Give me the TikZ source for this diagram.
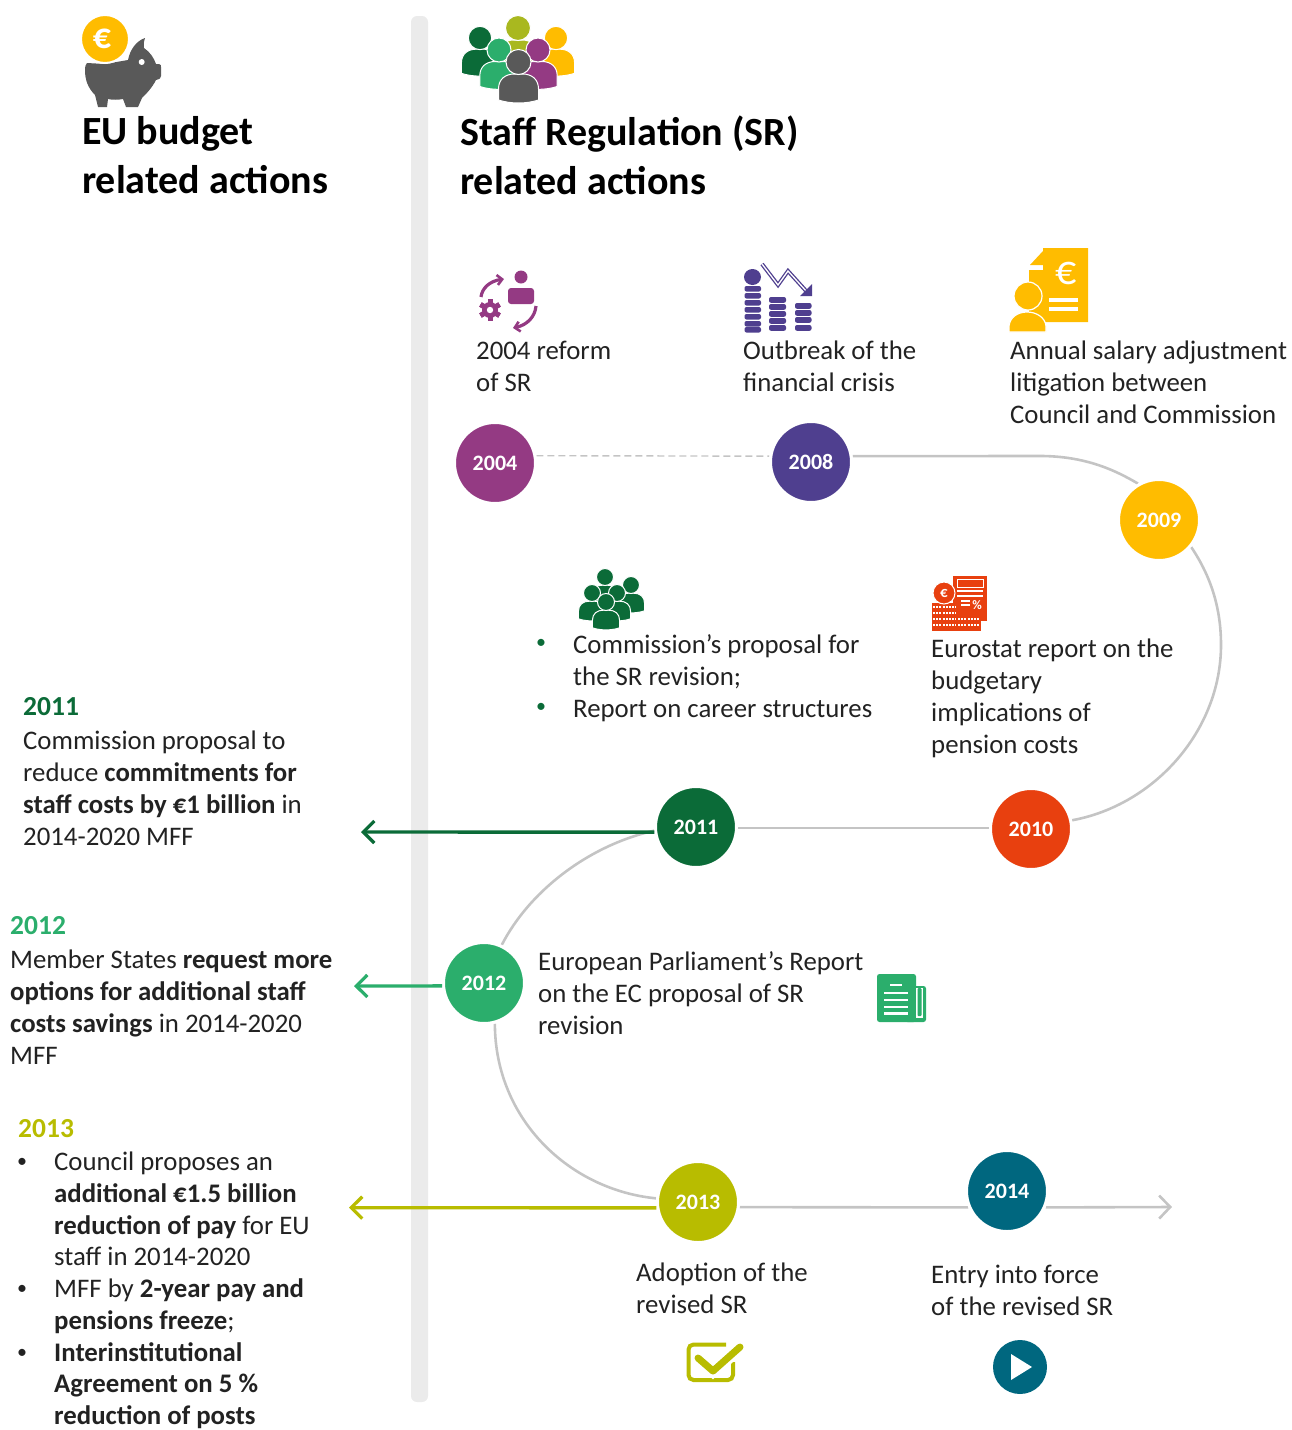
\documentclass[tikz,border=0pt]{standalone}
\usepackage{fontspec}
\setmainfont{Carlito}
\usetikzlibrary{arrows.meta,backgrounds,calc}
\definecolor{c04}{HTML}{943A83}
\definecolor{c08}{HTML}{4F3F8F}
\definecolor{c09}{HTML}{FFBC00}
\definecolor{c10}{HTML}{E8400F}
\definecolor{c11}{HTML}{0B6B38}
\definecolor{c12}{HTML}{2BAE6C}
\definecolor{c13}{HTML}{B8BC00}
\definecolor{c14}{HTML}{00677F}
\definecolor{pigc}{HTML}{595959}
\definecolor{inkc}{HTML}{222222}
\definecolor{linec}{HTML}{C4C4C4}
\definecolor{oliveh}{HTML}{A9B81F}
\tikzset{
  yearnode/.style={circle,minimum size=81pt,inner sep=0pt,draw=white,line width=3pt,text=white,
    font=\fontsize{22}{26}\selectfont\bfseries},
  bodytext/.style={anchor=north west,inner sep=0pt,align=left,text=inkc,
    font=\fontsize{26.8}{32}\selectfont,execute at begin node={\strut}},
  headtext/.style={anchor=north west,inner sep=0pt,align=left,text=black,
    font=\fontsize{40}{49}\selectfont\bfseries,execute at begin node={\strut}},
  yeartext/.style={anchor=north west,inner sep=0pt,font=\fontsize{27.5}{32}\selectfont\bfseries,execute at begin node={\strut}},
  bulletmark/.style={inner sep=0pt,font=\fontsize{20}{24}\selectfont},
  linkline/.style={draw=linec,line width=2.6pt},
  dashline/.style={draw=linec,line width=1.4pt,dash pattern=on 7pt off 4pt},
  pointer/.style={line width=3.4pt,-{Straight Barb[length=11pt,width=22pt,line width=3.2pt]}},
}
\newcommand\personicon[4]{%
  \begin{scope}[shift={(#1,#2)},scale=#3]
    \filldraw[fill=#4,draw=white,line width=1pt] (-20,38) -- (-20,27) .. controls (-20,17) and (-13,12) .. (-4,12) -- (4,12) .. controls (13,12) and (20,17) .. (20,27) -- (20,38) .. controls (8,42) and (-8,42) .. (-20,38) -- cycle;
    \filldraw[fill=#4,draw=white,line width=1pt] (0,0) circle[radius=12.5];
  \end{scope}}
\begin{document}
\begin{tikzpicture}[x=1pt,y=-1pt]
\useasboundingbox (0,0) rectangle (1291,1430);
% year nodes
\node[yearnode,fill=c04] (n2004) at (495,463) {2004};
\node[yearnode,fill=c08] (n2008) at (811,462) {2008};
\node[yearnode,fill=c09] (n2009) at (1159,520) {2009};
\node[yearnode,fill=c10] (n2010) at (1031,829) {2010};
\node[yearnode,fill=c11] (n2011) at (696,827) {2011};
\node[yearnode,fill=c12] (n2012) at (484,983) {2012};
\node[yearnode,fill=c13] (n2013) at (698,1202) {2013};
\node[yearnode,fill=c14] (n2014) at (1007,1191) {2014};
\coordinate (endarrow) at (1172,1207);
\coordinate (end2011) at (361,832);
\coordinate (end2012) at (354,986);
\coordinate (end2013) at (349,1207.7);
\begin{pgfonlayer}{background}
  \fill[fill=black!8,rounded corners=6pt] (411,16) rectangle (428,1402);
  \draw[dashline] (n2004.10) -- (n2008.172);
  \draw[linkline] (n2008.8.4) -- (1040,456) .. controls (1085,456) and (1115,470) .. (n2009.120);
  \draw[linkline] (n2009.-40) .. controls (1212,578) and (1221,610) .. (1221,645) .. controls (1221,730) and (1155,805) .. (n2010.12);
  \draw[linkline] (n2010.west |- 0,828) -- (n2011.east |- 0,828);
  \draw[linkline] (n2011.185) .. controls (590,845) and (530,890) .. (n2012.65);
  \draw[linkline] (n2012.-75) .. controls (495,1120) and (570,1190) .. (n2013.175);
  \draw[linkline] (n2013.-7) -- (n2014.-157);
  \draw[linkline,-{Straight Barb[length=11pt,width=23pt,line width=2.6pt]}] (n2014.-23) -- (endarrow);
\end{pgfonlayer}
\draw[pointer,c11] (n2011.187) -- (end2011);
\draw[pointer,c12] (n2012.184) -- (end2012);
\draw[pointer,c13] (n2013.188) -- (end2013);
% headings
\node[headtext] (hleft) at (82,116) {EU budget\\related actions};
\node[headtext] (hright) at (460,116) {Staff Regulation (SR)\\related actions};
% top labels
\node[bodytext] (t2004) at (476,341) {2004 reform\\of SR};
\node[bodytext] (t2008) at (743,341) {Outbreak of the\\financial crisis};
\node[bodytext] (t2009) at (1010,341) {Annual salary adjustment\\litigation between\\Council and Commission};
\node[bodytext] (t2011a) at (573,634) {Commission’s proposal for\\the SR revision;\\Report on career structures};
\node[bulletmark,c11] (b1) at (541,644) {•};
\node[bulletmark,c11] (b2) at (541,708) {•};
\node[bodytext] (t2010) at (931,639) {Eurostat report on the\\budgetary\\implications of\\pension costs};
\node[bodytext] (t2012) at (538,951) {European Parliament’s Report\\on the EC proposal of SR\\revision};
\node[bodytext] (t2013) at (636,1263) {Adoption of the\\revised SR};
\node[bodytext] (t2014) at (931,1265) {Entry into force\\of the revised SR};
% left column
\node[yeartext,text=c11] (y11) at (23,693) {2011};
\node[bodytext] (l11) at (23,731) {Commission proposal to\\reduce \textbf{commitments for}\\\textbf{staff costs by €1 billion} in\\2014-2020 MFF};
\node[yeartext,text=c12] (y12) at (10,912) {2012};
\node[bodytext] (l12) at (10,950) {Member States \textbf{request more}\\\textbf{options for additional staff}\\\textbf{costs savings} in 2014-2020\\MFF};
\node[yeartext,text=c13] (y13) at (18,1115) {2013};
\node[bodytext,font=\fontsize{26.8}{31.7}\selectfont] (l13) at (54,1152) {Council proposes an\\\textbf{additional €1.5 billion}\\\textbf{reduction of pay} for EU\\staff in 2014-2020\\MFF by \textbf{2-year pay and}\\\textbf{pensions freeze};\\\textbf{Interinstitutional}\\\textbf{Agreement on 5 \%}\\\textbf{reduction of posts}};
\node[bulletmark,inkc] (b3) at (22,1163) {•};
\node[bulletmark,inkc] (b4) at (22,1290) {•};
\node[bulletmark,inkc] (b5) at (22,1354) {•};
% piggy bank icon
\fill[pigc] (145,38) .. controls (144,42) and (143,45) .. (144,48) .. controls (150,52) and (154,58) .. (156,64) -- (159,64) .. controls (161,64) and (161,66) .. (161,67) -- (161,76) .. controls (161,78) and (160,79) .. (156,80) .. controls (152,88) and (146,94) .. (142,98) -- (138,107) -- (126,107) -- (123,99) .. controls (118,100) and (112,100) .. (108,99) -- (107,107) -- (98,107) -- (95,95) .. controls (88,88) and (85,80) .. (85,70) .. controls (85,66) and (86,64) .. (87,63) -- (105,64) -- (128,60) .. controls (130,50) and (136,41) .. (145,38) -- cycle;
\fill[white] (141.7,62) circle[radius=3];
\filldraw[fill=c09,draw=white,line width=2pt] (105,39) circle[radius=24];
\node[text=white,inner sep=0pt,font=\fontsize{36}{36}\selectfont\bfseries] (coin) at (102,39) {€};
% staff icon
\personicon{518}{28}{1}{oliveh}
\personicon{480}{38}{0.93}{c11}
\personicon{556}{38}{0.93}{c09}
\personicon{499}{50}{0.96}{c12}
\personicon{538}{50}{0.96}{c04}
\personicon{518.5}{62}{1}{pigc}
% 2004 reform icon
\fill[c04] (521,277) circle[radius=6.5];
\fill[c04,rounded corners=3pt] (508,288) rectangle (534,304);
\fill[c04] (490,310) circle[radius=8];
\foreach \a in {0,60,...,300}{\fill[c04,rotate around={\a:(490,310)}] (487.5,299) rectangle (492.5,321);}
\fill[white] (490,310) circle[radius=3.2];
\draw[c04,line width=3.2pt,-{Straight Barb[length=5pt,width=10pt,line width=2.6pt]}] (481,297) .. controls (482,288) and (490,281) .. (504,279);
\draw[c04,line width=3.2pt,-{Straight Barb[length=5pt,width=10pt,line width=2.6pt]}] (536,306) .. controls (535,317) and (527,325) .. (513,328);
% 2008 crisis icon
\fill[c08] (752.5,277) ellipse[x radius=8.5,y radius=8];
\foreach \yy in {286,293,300,307,314,321,327}{\fill[c08,rounded corners=2pt] (744.5,\yy) rectangle (761,\yy+5.5);}
\foreach \yy in {297,304,311,318,325}{\fill[c08,rounded corners=2pt] (769,\yy) rectangle (786,\yy+5.8);}
\foreach \yy in {303,310,317,325}{\fill[c08,rounded corners=2pt] (795,\yy) rectangle (811.5,\yy+5.8);}
\draw[c08,line width=1.3pt,double=white,double distance=1.3pt] (762,264) -- (778,285) -- (788,271) -- (807,292);
\fill[c08] (812,296) -- (812,284) -- (800,296) -- cycle;
% 2009 salary icon
\fill[c09] (1043,248) -- (1088,248) -- (1088,322) -- (1029,322) -- (1029,270) -- (1043,270) -- cycle;
\fill[c09] (1030,265) -- (1043,265) -- (1043,251) -- cycle;
\node[text=white,inner sep=0pt,font=\fontsize{42}{42}\selectfont] (eur2) at (1066,273) {€};
\draw[white,line width=3.4pt] (1049,300) -- (1078,300) (1049,309) -- (1078,309);
\filldraw[fill=c09,draw=white,line width=1.2pt] (1009,332) -- (1009,326) .. controls (1010,317) and (1018,312) .. (1027,312) .. controls (1036,312) and (1045,317) .. (1046,326) -- (1046,332) -- cycle;
\filldraw[fill=c09,draw=white,line width=1.2pt] (1028,296) circle[radius=14];
% commission icon
\personicon{605}{577}{0.68}{c11}
\personicon{631}{585}{0.68}{c11}
\personicon{592}{593}{0.68}{c11}
\personicon{617}{593}{0.68}{c11}
\personicon{606}{602}{0.68}{c11}
% eurostat icon
\fill[c10] (953,576) rectangle (987,621);
\draw[white,line width=1pt] (957,579.5) rectangle (983,587);
\draw[white,line width=1.2pt] (957,591) -- (983,591) (957,596) -- (983,596) (961,601) -- (970,601) (961,605) -- (970,605);
\node[text=white,inner sep=0pt,font=\fontsize{13}{13}\selectfont\bfseries] (pct) at (977,605) {\%};
\fill[c10] (932,603) rectangle (957,631);
\fill[c10] (957,614) rectangle (981,631);
\foreach \yy in {607,613,619,625}{\draw[white,line width=1.4pt,dash pattern=on 2pt off 1.2pt] (933,\yy) -- (956,\yy);}
\foreach \yy in {619,625}{\draw[white,line width=1.4pt,dash pattern=on 2pt off 1.2pt] (958,\yy) -- (980,\yy);}
\filldraw[fill=c10,draw=white,line width=1pt] (944,593) circle[radius=11];
\node[text=white,inner sep=0pt,font=\fontsize{15}{15}\selectfont\bfseries] (eur3) at (944,593) {€};
% EP document icon
\fill[c12,rounded corners=2.5pt] (877,974) rectangle (916,1022);
\fill[c12,rounded corners=2.5pt] (905,986) rectangle (926,1022);
\fill[white] (916,988) rectangle (923,1018);
\fill[c12,rounded corners=1pt] (917.5,988) rectangle (921.5,1016);
\draw[white,line width=2.8pt] (890,985) -- (902,985) (884,993) -- (908,993) (884,1000) -- (908,1000) (884,1007) -- (908,1007) (884,1013.5) -- (908,1013.5);
% check icon
\draw[c13,line width=4pt,rounded corners=5pt] (726,1344.5) -- (688.5,1344.5) -- (688.5,1380) -- (733,1380) -- (733,1362);
\draw[white,line width=11pt] (697,1358) -- (713,1372) -- (742,1347);
\draw[c13,line width=7pt,line cap=round,line join=round] (698,1358) -- (713,1371) -- (740,1347);
% play icon
\fill[c14] (1020,1367) circle[radius=27];
\fill[white] (1011,1354) -- (1032,1367) -- (1011,1380) -- cycle;
\end{tikzpicture}
\end{document}
